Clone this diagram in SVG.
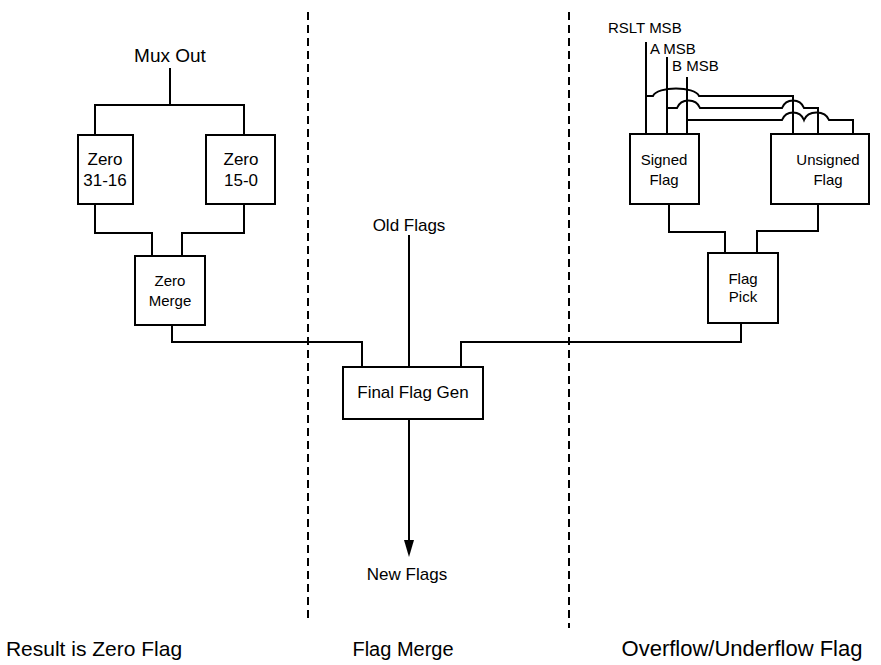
<svg xmlns="http://www.w3.org/2000/svg" width="881" height="665" viewBox="0 0 881 665">
<style>
.b{fill:#fff;stroke:#000;stroke-width:2}
.w{fill:none;stroke:#000;stroke-width:2}
.d{fill:none;stroke:#000;stroke-width:2;stroke-dasharray:8 5}
text{font-family:"Liberation Sans",Arial,sans-serif;fill:#000}
.t15{font-size:15px;text-anchor:middle}
.t17{font-size:17px;text-anchor:middle}
.t14{font-size:15px}
.lab{font-size:20px;text-anchor:middle}
</style>
<rect width="881" height="665" fill="#fff"/>
<g id="dividers">
<line class="d" x1="308" y1="12" x2="308" y2="622"/>
<line class="d" x1="569" y1="12" x2="569" y2="628"/>
</g>
<g id="connectors">
<path class="w" d="M170,68V105M95,135V105H244V135"/>
<path class="w" d="M95,204V233H152V256M244,204V233H182V256"/>
<path class="w" d="M172,325V342H362V367"/>
<path class="w" d="M409,235V367"/>
<path class="w" d="M461,367V342H741V323"/>
<path class="w" d="M669,204V232H725V253M818,204V231H757V253"/>
<path class="w" d="M409,419V542"/>
<polygon points="404,540 414,540 409,557" fill="#000"/>
<path class="w" d="M646,42V134M667,57V134M687,77V134"/>
<path class="w" d="M645,96H653C657,86 695,86 699,96H793V134"/>
<path class="w" d="M667,108H677C681,98 696,98 700,108H782C786,98 800,98 804,108H818V134"/>
<path class="w" d="M687,120H782C786,110 800,110 804,120C808,110 825,110 829,120H853V134"/>
</g>
<g id="mux-out"><text class="t17" x="170" y="62" style="font-size:19px">Mux Out</text></g>
<g id="zero-31-16"><rect class="b" x="78" y="135" width="55" height="69"/><text class="t17" x="105" y="165">Zero</text><text class="t17" x="105" y="186">31-16</text></g>
<g id="zero-15-0"><rect class="b" x="206" y="135" width="69" height="69"/><text class="t17" x="241" y="165">Zero</text><text class="t17" x="241" y="186">15-0</text></g>
<g id="zero-merge"><rect class="b" x="135" y="256" width="70" height="69"/><text class="t15" x="170" y="286">Zero</text><text class="t15" x="170" y="306">Merge</text></g>
<g id="old-flags"><text class="t17" x="409" y="231">Old Flags</text></g>
<g id="final-flag-gen"><rect class="b" x="343" y="367" width="140" height="52"/><text class="t17" x="413" y="398">Final Flag Gen</text></g>
<g id="new-flags"><text class="t17" x="407" y="580">New Flags</text></g>
<g id="signals"><text class="t14" x="608" y="33">RSLT MSB</text><text class="t14" x="650" y="54">A MSB</text><text class="t14" x="672" y="71">B MSB</text></g>
<g id="signed-flag"><rect class="b" x="630" y="134" width="69" height="70"/><text class="t15" x="664" y="165">Signed</text><text class="t15" x="664" y="185">Flag</text></g>
<g id="unsigned-flag"><rect class="b" x="771" y="134" width="98" height="70"/><text class="t15" x="828" y="165">Unsigned</text><text class="t15" x="828" y="185">Flag</text></g>
<g id="flag-pick"><rect class="b" x="708" y="253" width="70" height="70"/><text class="t15" x="743" y="284">Flag</text><text class="t15" x="743" y="302">Pick</text></g>
<g id="section-labels"><text class="lab" x="94" y="656" style="font-size:21px">Result is Zero Flag</text><text class="lab" x="403" y="656">Flag Merge</text><text class="lab" x="742" y="656" style="font-size:22px">Overflow/Underflow Flag</text></g>
</svg>
